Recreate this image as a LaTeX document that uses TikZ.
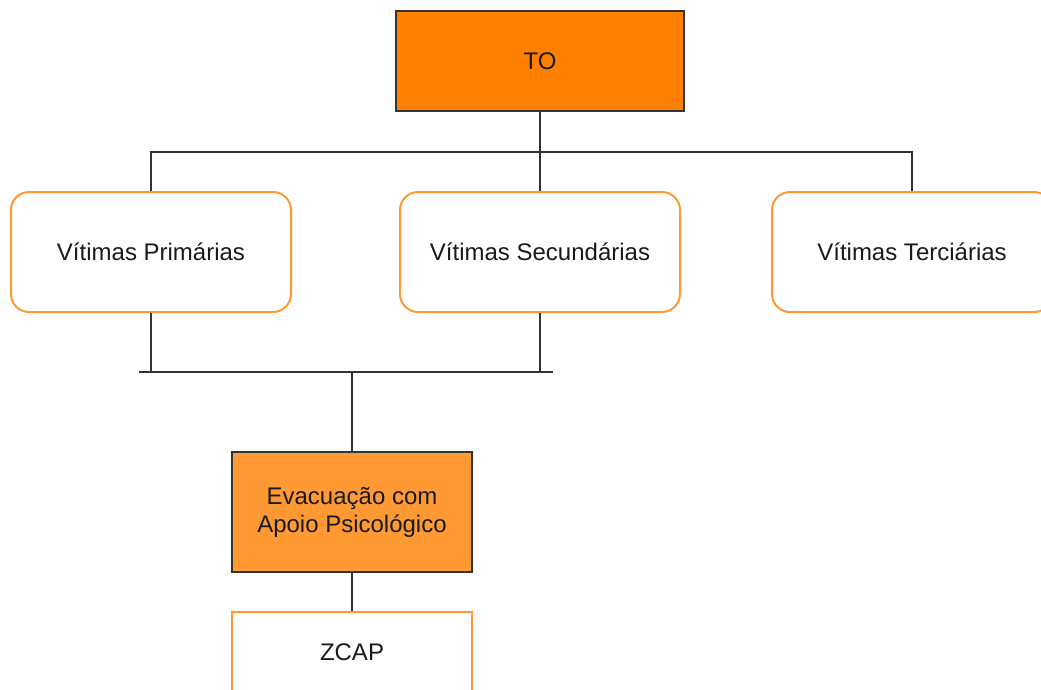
\documentclass[tikz,border=0pt]{standalone}
\usepackage{fontspec}
\setmainfont{Liberation Sans}
\definecolor{topfill}{HTML}{FF8000}
\definecolor{evacfill}{HTML}{FF9933}
\definecolor{orangeline}{HTML}{FF9933}
\definecolor{darkline}{HTML}{333333}
\definecolor{textcol}{HTML}{1A1A1A}
\tikzset{
  base/.style={minimum width=280pt, minimum height=120pt, inner sep=0pt,
    align=center, text=textcol, font=\fontsize{24}{28}\selectfont, line width=2pt},
  headbox/.style={base, draw=darkline, fill=topfill, minimum width=288pt, minimum height=100pt},
  victimbox/.style={base, draw=orangeline, fill=white, rounded corners=18pt},
  actionbox/.style={base, draw=darkline, fill=evacfill, minimum width=240pt},
  placebox/.style={base, draw=orangeline, fill=white, minimum width=240pt, minimum height=80pt},
  link/.style={draw=darkline, line width=2pt}
}
\begin{document}
\begin{tikzpicture}[x=1pt, y=-1pt]
  \useasboundingbox (0,0) rectangle (1041,689);
  \clip (0,0) rectangle (1041,689);

  % top level
  \node[headbox] (to) at (540,61) {TO};

  % victim categories
  \node[victimbox] (prim) at (151,252) {Vítimas Primárias};
  \node[victimbox] (sec)  at (540,252) {Vítimas Secundárias};
  \node[victimbox] (ter)  at (912,252) {Vítimas Terciárias};

  % evacuation and destination
  \node[actionbox] (evac) at (352,512) {Evacuação com\\Apoio Psicológico};
  \node[placebox] (zcap) at (352,652) {ZCAP};

  % branch from TO to the three categories
  \coordinate (split) at (540,152);
  \draw[link] (to.south) -- (split);
  \draw[link] (split) -| (prim.north);
  \draw[link] (split) -| (ter.north);
  \draw[link] (split) -- (sec.north);

  % merge of primary and secondary victims
  \coordinate (barL) at (139,372);
  \coordinate (barR) at (553,372);
  \draw[link] (barL) -- (barR);
  \draw[link] (prim.south) -- (prim.south |- barL);
  \draw[link] (sec.south) -- (sec.south |- barL);
  \draw[link] (evac.north |- barL) -- (evac.north);

  \draw[link] (evac.south) -- (zcap.north);
\end{tikzpicture}
\end{document}
